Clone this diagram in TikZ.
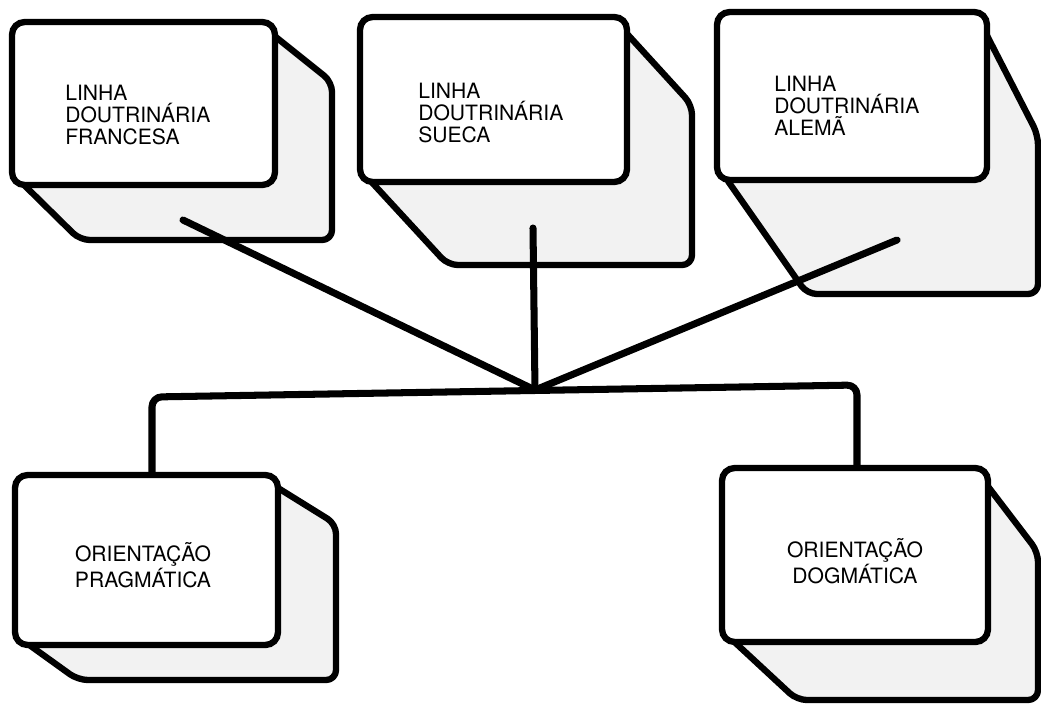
\documentclass[tikz,border=0pt]{standalone}
\usepackage{fontspec}
\setmainfont{TeX Gyre Heros}
\tikzset{every node/.style={font=\fontsize{15}{15.5}\selectfont}}

\begin{document}
\begin{tikzpicture}[x=0.025cm, y=-0.025cm,
    depth/.style={draw, line width=4.5pt, rounded corners=7pt, line join=round, fill=black!5},
    face/.style={draw, line width=4.5pt, rounded corners=9pt, fill=white},
    label/.style={inner sep=0pt, align=left},
    link/.style={line width=5pt, line cap=round, line join=round}]
  \useasboundingbox (0,0) rectangle (1041,705);

  % Top row of boxes (depth first, then the front face).
  \draw[depth] (267,30) -- (332,82) -- (332,240) -- (80,240) -- (18,179) -- cycle;
  \draw[face] (12,22) rectangle (275,185);
  \node[label, anchor=west] (francesa) at (65,115) {LINHA\\DOUTRINÁRIA\\FRANCESA};

  \draw[depth] (619,25) -- (692,105) -- (692,265) -- (448,265) -- (366,176) -- cycle;
  \draw[face] (360,17) rectangle (627,182);
  \node[label, anchor=west] (sueca) at (418,113) {LINHA\\DOUTRINÁRIA\\SUECA};

  \draw[depth] (979,20) -- (1038,135) -- (1038,294) -- (807,294) -- (723,174) -- cycle;
  \draw[face] (717,12) rectangle (987,180);
  \node[label, anchor=west] (alema) at (774,106) {LINHA\\DOUTRINÁRIA\\ALEMÃ};

  % Feet of the connectors and the meeting point.
  \coordinate (francesa-foot) at (183,220);
  \coordinate (sueca-foot) at (533,228);
  \coordinate (alema-foot) at (897,240);
  \coordinate (hub) at (535,390);
  \coordinate (bar-left) at (152,397);
  \coordinate (bar-right) at (857,385);
  \coordinate (pragmatica-top) at (152,478);
  \coordinate (dogmatica-top) at (857,469);

  \draw[link] (francesa-foot) -- (hub);
  \draw[link] (sueca-foot) -- (hub);
  \draw[link] (alema-foot) -- (hub);
  \draw[link, rounded corners=7pt] (pragmatica-top) -- (bar-left) -- (bar-right) -- (dogmatica-top);

  % Bottom row of boxes.
  \draw[depth] (270,483) -- (336,524) -- (336,680) -- (78,680) -- (21,639) -- cycle;
  \draw[face] (15,475) rectangle (278,645);
  \node[label, align=center] (pragmatica) at (143,565) {ORIENTAÇÃO\\PRAGMÁTICA};

  \draw[depth] (980,476) -- (1038,552) -- (1038,700) -- (797,700) -- (728,636) -- cycle;
  \draw[face] (722,468) rectangle (988,642);
  \node[label, align=center] (dogmatica) at (855,561) {ORIENTAÇÃO\\DOGMÁTICA};
\end{tikzpicture}
\end{document}
